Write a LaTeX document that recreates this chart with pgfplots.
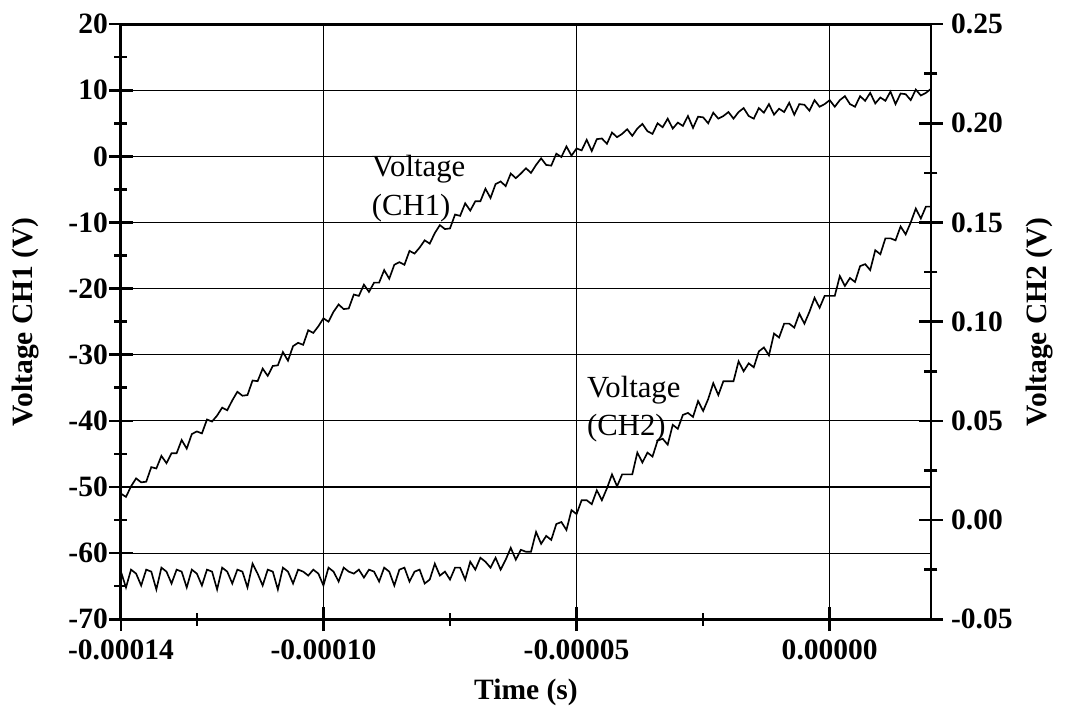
\documentclass[border=0pt]{standalone}
\usepackage{pgfplots}
\usepackage{pgfplotstable}
\pgfplotsset{compat=1.18}
\usepackage{fontspec}
\setmainfont{Liberation Serif}

% time in units of 1e-5 s
\pgfplotstableread[row sep=\\]{
t v\\
-14.0 -51.0\\ -13.9 -51.5\\ -13.8 -49.9\\ -13.7 -48.7\\ -13.6 -49.3\\ -13.5 -49.2\\ -13.4 -47.0\\ -13.3 -47.2\\ -13.2 -45.3\\ -13.1 -46.4\\
-13.0 -44.9\\ -12.9 -44.9\\ -12.8 -42.9\\ -12.7 -44.2\\ -12.6 -42.0\\ -12.5 -41.6\\ -12.4 -41.9\\ -12.3 -39.8\\ -12.2 -40.1\\ -12.1 -39.2\\
-12.0 -38.0\\ -11.9 -38.4\\ -11.8 -36.9\\ -11.7 -35.6\\ -11.6 -36.2\\ -11.5 -36.1\\ -11.4 -33.9\\ -11.3 -34.0\\ -11.2 -32.1\\ -11.1 -33.2\\
-11.0 -31.7\\ -10.9 -31.6\\ -10.8 -29.6\\ -10.7 -30.9\\ -10.6 -28.7\\ -10.5 -28.2\\ -10.4 -28.5\\ -10.3 -26.3\\ -10.2 -26.7\\ -10.1 -25.7\\
-10.0 -24.5\\ -9.9 -25.0\\ -9.8 -23.5\\ -9.7 -22.4\\ -9.6 -23.1\\ -9.5 -23.0\\ -9.4 -20.9\\ -9.3 -21.1\\ -9.2 -19.4\\ -9.1 -20.5\\
-9.0 -19.1\\ -8.9 -19.1\\ -8.8 -17.2\\ -8.7 -18.5\\ -8.6 -16.4\\ -8.5 -16.0\\ -8.4 -16.4\\ -8.3 -14.3\\ -8.2 -14.7\\ -8.1 -13.8\\
-8.0 -12.7\\ -7.9 -13.2\\ -7.8 -11.6\\ -7.7 -10.4\\ -7.6 -11.0\\ -7.5 -10.9\\ -7.4 -8.8\\ -7.3 -9.0\\ -7.2 -7.1\\ -7.1 -8.2\\
-7.0 -6.8\\ -6.9 -6.8\\ -6.8 -4.9\\ -6.7 -6.3\\ -6.6 -4.2\\ -6.5 -3.8\\ -6.4 -4.5\\ -6.3 -2.6\\ -6.2 -3.3\\ -6.1 -2.6\\
-6.0 -1.8\\ -5.9 -2.5\\ -5.8 -1.3\\ -5.7 -0.3\\ -5.6 -1.3\\ -5.5 -1.4\\ -5.4 0.4\\ -5.3 -0.1\\ -5.2 1.5\\ -5.1 0.1\\
-5.0 1.2\\ -4.9 0.9\\ -4.8 2.5\\ -4.7 0.8\\ -4.6 2.6\\ -4.5 2.7\\ -4.4 1.9\\ -4.3 3.6\\ -4.2 2.9\\ -4.1 3.4\\
-4.0 4.1\\ -3.9 3.1\\ -3.8 4.2\\ -3.7 4.9\\ -3.6 3.8\\ -3.5 3.4\\ -3.4 5.0\\ -3.3 4.4\\ -3.2 5.7\\ -3.1 4.2\\
-3.0 5.1\\ -2.9 4.6\\ -2.8 6.1\\ -2.7 4.3\\ -2.6 6.0\\ -2.5 5.9\\ -2.4 5.0\\ -2.3 6.6\\ -2.2 5.7\\ -2.1 6.1\\
-2.0 6.7\\ -1.9 5.7\\ -1.8 6.7\\ -1.7 7.3\\ -1.6 6.1\\ -1.5 5.7\\ -1.4 7.3\\ -1.3 6.6\\ -1.2 7.9\\ -1.1 6.3\\
-1.0 7.2\\ -0.9 6.7\\ -0.8 8.1\\ -0.7 6.3\\ -0.6 7.9\\ -0.5 7.8\\ -0.4 6.9\\ -0.3 8.5\\ -0.2 7.5\\ -0.1 7.9\\
0.0 8.5\\ 0.1 7.5\\ 0.2 8.5\\ 0.3 9.1\\ 0.4 7.9\\ 0.5 7.5\\ 0.6 9.1\\ 0.7 8.4\\ 0.8 9.6\\ 0.9 8.0\\
1.0 8.9\\ 1.1 8.4\\ 1.2 9.8\\ 1.3 7.9\\ 1.4 9.5\\ 1.5 9.4\\ 1.6 8.5\\ 1.7 10.1\\ 1.8 9.2\\ 1.9 9.6\\
2.0 10.2\\
}\chone

\pgfplotstableread[row sep=\\]{
t v\\
-14.0 -0.026\\ -13.9 -0.034\\ -13.8 -0.025\\ -13.7 -0.027\\ -13.6 -0.033\\ -13.5 -0.025\\ -13.4 -0.026\\ -13.3 -0.035\\ -13.2 -0.024\\ -13.1 -0.026\\
-13.0 -0.032\\ -12.9 -0.025\\ -12.8 -0.026\\ -12.7 -0.034\\ -12.6 -0.025\\ -12.5 -0.027\\ -12.4 -0.033\\ -12.3 -0.025\\ -12.2 -0.026\\ -12.1 -0.035\\
-12.0 -0.024\\ -11.9 -0.026\\ -11.8 -0.032\\ -11.7 -0.025\\ -11.6 -0.026\\ -11.5 -0.034\\ -11.4 -0.022\\ -11.3 -0.027\\ -11.2 -0.033\\ -11.1 -0.025\\
-11.0 -0.026\\ -10.9 -0.035\\ -10.8 -0.024\\ -10.7 -0.026\\ -10.6 -0.032\\ -10.5 -0.025\\ -10.4 -0.026\\ -10.3 -0.028\\ -10.2 -0.025\\ -10.1 -0.027\\
-10.0 -0.033\\ -9.9 -0.024\\ -9.8 -0.026\\ -9.7 -0.031\\ -9.6 -0.024\\ -9.5 -0.026\\ -9.4 -0.027\\ -9.3 -0.025\\ -9.2 -0.029\\ -9.1 -0.025\\
-9.0 -0.026\\ -8.9 -0.031\\ -8.8 -0.024\\ -8.7 -0.026\\ -8.6 -0.033\\ -8.5 -0.025\\ -8.4 -0.024\\ -8.3 -0.031\\ -8.2 -0.026\\ -8.1 -0.025\\
-8.0 -0.032\\ -7.9 -0.030\\ -7.8 -0.022\\ -7.7 -0.028\\ -7.6 -0.026\\ -7.5 -0.030\\ -7.4 -0.024\\ -7.3 -0.024\\ -7.2 -0.030\\ -7.1 -0.021\\
-7.0 -0.025\\ -6.9 -0.019\\ -6.8 -0.021\\ -6.7 -0.024\\ -6.6 -0.019\\ -6.5 -0.025\\ -6.4 -0.020\\ -6.3 -0.014\\ -6.2 -0.020\\ -6.1 -0.015\\
-6.0 -0.016\\ -5.9 -0.016\\ -5.8 -0.006\\ -5.7 -0.012\\ -5.6 -0.008\\ -5.5 -0.010\\ -5.4 -0.002\\ -5.3 -0.001\\ -5.2 -0.005\\ -5.1 0.005\\
-5.0 0.003\\ -4.9 0.010\\ -4.8 0.010\\ -4.7 0.008\\ -4.6 0.015\\ -4.5 0.010\\ -4.4 0.016\\ -4.3 0.023\\ -4.2 0.017\\ -4.1 0.023\\
-4.0 0.023\\ -3.9 0.023\\ -3.8 0.034\\ -3.7 0.029\\ -3.6 0.034\\ -3.5 0.032\\ -3.4 0.040\\ -3.3 0.041\\ -3.2 0.038\\ -3.1 0.048\\
-3.0 0.046\\ -2.9 0.053\\ -2.8 0.054\\ -2.7 0.052\\ -2.6 0.060\\ -2.5 0.055\\ -2.4 0.061\\ -2.3 0.069\\ -2.2 0.063\\ -2.1 0.070\\
-2.0 0.070\\ -1.9 0.070\\ -1.8 0.080\\ -1.7 0.075\\ -1.6 0.079\\ -1.5 0.077\\ -1.4 0.085\\ -1.3 0.087\\ -1.2 0.083\\ -1.1 0.094\\
-1.0 0.092\\ -0.9 0.099\\ -0.8 0.099\\ -0.7 0.097\\ -0.6 0.104\\ -0.5 0.099\\ -0.4 0.105\\ -0.3 0.112\\ -0.2 0.107\\ -0.1 0.113\\
0.0 0.113\\ 0.1 0.113\\ 0.2 0.123\\ 0.3 0.118\\ 0.4 0.122\\ 0.5 0.120\\ 0.6 0.128\\ 0.7 0.129\\ 0.8 0.126\\ 0.9 0.136\\
1.0 0.134\\ 1.1 0.142\\ 1.2 0.142\\ 1.3 0.141\\ 1.4 0.148\\ 1.5 0.144\\ 1.6 0.150\\ 1.7 0.157\\ 1.8 0.152\\ 1.9 0.158\\
2.0 0.158\\
}\chtwo

\begin{document}
\begin{tikzpicture}
\pgfplotsset{
  every axis/.append style={
    scale only axis, width=343pt, height=252pt,
    xmin=-14, xmax=2,
    tick align=center,
    major tick length=10pt, minor tick length=5.5pt,
    tick style={black, line width=1.1pt},
    axis line style={line width=1.2pt},
    tick label style={font=\fontsize{12.5}{14}\selectfont\bfseries},
    /pgf/number format/assume math mode=true,
  },
}
\begin{axis}[
  name=main,
  ymin=-70, ymax=20, ytick={-70,-60,...,20}, minor y tick num=1,
  xtick={-14,-10,-5,0},
  xticklabels={-0.00014,-0.00010,-0.00005,0.00000},
  minor xtick={-12.5,-7.5,-2.5},
  xtick pos=bottom, ytick pos=left,
  yticklabel style={xshift=3pt},
  xmajorgrids, ymajorgrids,
  grid style={black, line width=0.5pt},
  xlabel={Time (s)}, ylabel={Voltage CH1 (V)},
  every axis x label/.style={at={([yshift=-30.9pt]axis description cs:0.5,0)}, anchor=center,
    font=\fontsize{12.5}{14}\selectfont\bfseries},
  every axis y label/.style={at={([xshift=-40.6pt]axis description cs:0,0.5)}, rotate=90, anchor=center,
    font=\fontsize{12.5}{14}\selectfont\bfseries},
]
\addplot[black, line width=0.7pt] table {\chone};
\node[anchor=north west, inner sep=0pt, align=left, font=\fontsize{13}{16.5}\selectfont]
  at (axis cs:-9.05,0.3) {Voltage\\(CH1)};
\node[anchor=north west, inner sep=0pt, align=left, font=\fontsize{13}{16.5}\selectfont]
  at (axis cs:-4.8,-33.1) {Voltage\\(CH2)};
\end{axis}
\begin{axis}[
  axis y line*=right, axis x line=none,
  ymin=-0.05, ymax=0.25, ytick={-0.05,0,0.05,0.1,0.15,0.2,0.25}, minor y tick num=1,
  yticklabel style={/pgf/number format/.cd, fixed, fixed zerofill, precision=2},
  ylabel={Voltage CH2 (V)},
  every axis y label/.style={at={([xshift=46pt]axis description cs:1,0.5)}, rotate=90, anchor=center,
    font=\fontsize{12.5}{14}\selectfont\bfseries},
]
\addplot[black, line width=0.7pt] table {\chtwo};
\end{axis}
\pgfresetboundingbox
\path ([xshift=-51.2pt,yshift=-41.1pt]main.south west) rectangle ([xshift=59.3pt,yshift=10.2pt]main.north east);
\end{tikzpicture}
\end{document}
